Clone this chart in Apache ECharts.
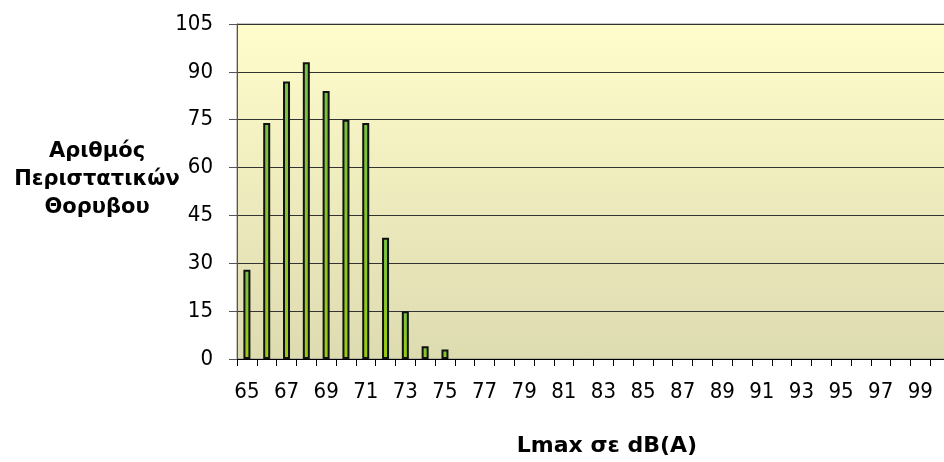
<!DOCTYPE html>
<html><head><meta charset="utf-8">
<script src="https://cdn.jsdelivr.net/npm/echarts@6/dist/echarts.min.js"></script>
<style>html,body{margin:0;padding:0;background:#fff}#c{width:944px;height:462px}</style>
</head><body><div id="c"></div>
<script>
const categories = [];
for (let v = 65; v <= 100; v++) categories.push(String(v));
const counts = [28, 74, 87, 93, 84, 75, 74, 38, 15, 4, 3,
  0, 0, 0, 0, 0, 0, 0, 0, 0, 0, 0, 0, 0, 0, 0, 0, 0, 0, 0, 0, 0, 0, 0, 0, 0];
const yTitle = 'Αριθμός\nΠεριστατικών\nΘορυβου';
const xTitle = 'Lmax σε dB(A)';

const tickFont = '"DejaVu Sans Condensed", "DejaVu Sans", sans-serif';
const titleFont = '"DejaVu Sans", sans-serif';
const chart = echarts.init(document.getElementById('c'), null, {renderer: 'canvas'});
chart.setOption({
  animation: false,
  grid: {
    left: 237, top: 24, right: -6, bottom: 103,
    containLabel: false,
    outerBoundsMode: 'none',
    show: true,
    borderColor: '#8a8a8a', borderWidth: 1,
    backgroundColor: {
      type: 'linear', x: 0, y: 0, x2: 0, y2: 1,
      colorStops: [{offset: 0, color: '#FFFDCB'}, {offset: 1, color: '#DDDBB0'}]
    }
  },
  graphic: [
    {type: 'text', x: 97, y: 180, style: {
      text: yTitle, align: 'center', verticalAlign: 'middle',
      font: 'bold 21px ' + titleFont, lineHeight: 28, fill: '#000'}},
    {type: 'text', x: 607, y: 446, style: {
      text: xTitle, align: 'center', verticalAlign: 'middle',
      font: 'bold 22px ' + titleFont, fill: '#000'}}
  ],
  xAxis: {
    type: 'category', data: categories, boundaryGap: true,
    axisLine: {lineStyle: {color: '#000', width: 1}},
    axisTick: {show: true, interval: 0, length: 7, lineStyle: {color: '#000'}},
    axisLabel: {interval: 1, fontFamily: tickFont, fontSize: 22, color: '#000', margin: 22}
  },
  yAxis: {
    type: 'value', min: 0, max: 105, interval: 15,
    axisLine: {show: true, lineStyle: {color: '#555', width: 1}},
    axisTick: {show: true, length: 8, lineStyle: {color: '#555'}},
    axisLabel: {fontFamily: tickFont, fontSize: 22, color: '#000', margin: 24},
    splitLine: {lineStyle: {color: '#333', width: 1}}
  },
  series: [{
    type: 'bar', data: counts.map(v => (v === 0 ? '-' : v)), barWidth: 7,
    itemStyle: {
      color: {type: 'linear', x: 0, y: 0, x2: 0, y2: 1,
        colorStops: [{offset: 0, color: '#78C043'}, {offset: 1, color: '#9ACC12'}]},
      borderColor: '#111', borderWidth: 2
    }
  }]
});
</script>
</body></html>
